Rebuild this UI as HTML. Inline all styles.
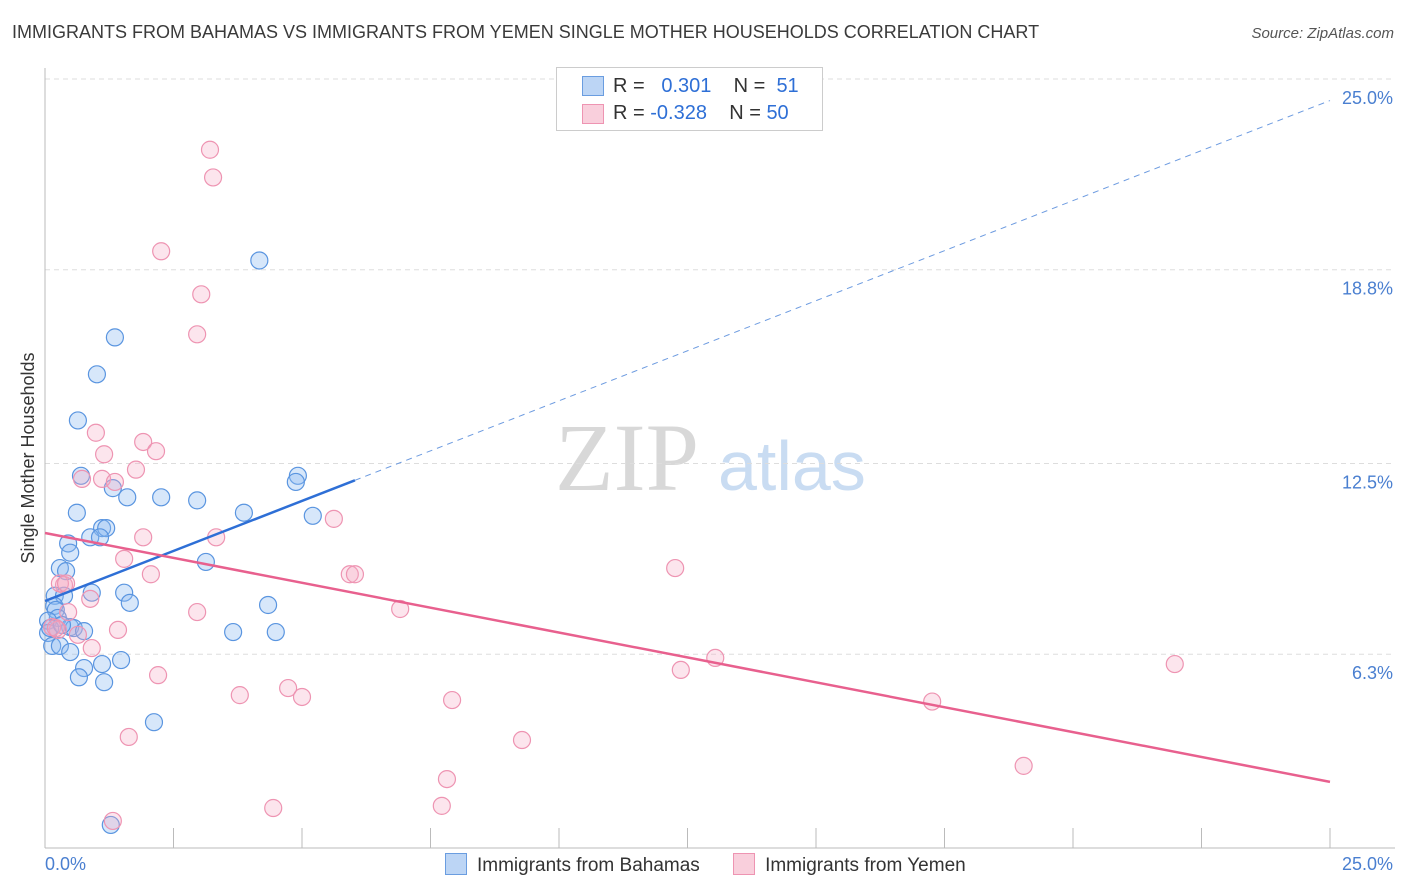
<!DOCTYPE html>
<html><head><meta charset="utf-8"><style>
body{margin:0;background:#fff;font-family:"Liberation Sans",sans-serif;}
#wrap{position:relative;width:1406px;height:892px;overflow:hidden;}
.t{position:absolute;white-space:nowrap;}
</style></head><body>
<div id="wrap">
<div class="t" style="left:12px;top:22px;font-size:18px;color:#3a3a3a;">IMMIGRANTS FROM BAHAMAS VS IMMIGRANTS FROM YEMEN SINGLE MOTHER HOUSEHOLDS CORRELATION CHART</div>
<div class="t" style="right:12px;top:25px;font-size:15px;color:#555;font-style:italic;">Source: ZipAtlas.com</div>
<svg id="svg" width="1406" height="892" style="position:absolute;left:0;top:0"></svg>
</div>
<script>
const yTicks=[25.0,18.8,12.5,6.3];
const yTickLabels=["25.0%","18.8%","12.5%","6.3%"];
const xTickLabels=["0.0%","25.0%"];
const bahamasX=[4.17,1.36,1.01,0.64,0.70,1.32,2.26,2.96,4.92,4.88,1.60,0.62,3.87,5.21,1.11,1.19,0.88,1.07,0.45,0.49,0.29,0.41,3.13,0.91,1.54,0.19,0.37,1.65,4.34,0.18,0.21,0.25,0.06,0.49,0.56,0.76,0.06,3.66,4.49,0.14,0.29,0.49,0.76,1.11,1.48,0.66,1.15,2.12,1.28,0.10,0.33];
const bahamasY=[19.1,16.6,15.4,13.9,12.1,11.7,11.4,11.3,12.1,11.9,11.4,10.9,10.9,10.8,10.4,10.4,10.1,10.1,9.9,9.6,9.1,9.0,9.3,8.3,8.3,8.2,8.2,7.97,7.9,7.87,7.74,7.48,7.39,7.18,7.15,7.05,6.99,7.02,7.02,6.57,6.57,6.37,5.85,5.98,6.11,5.55,5.39,4.09,0.75,7.15,7.25];
const yemenX=[3.21,3.27,2.26,3.04,2.96,0.99,1.91,2.16,1.77,1.15,0.72,1.11,1.36,5.62,3.33,1.91,1.54,2.06,5.93,6.03,12.26,0.37,0.29,0.41,0.88,0.45,2.96,6.91,1.42,0.25,0.64,0.91,13.04,12.37,21.98,2.2,3.79,4.73,5.0,7.92,17.26,1.63,9.28,19.04,7.82,4.44,7.72,1.32,0.14,0.21];
const yemenY=[22.7,21.8,19.4,18.0,16.7,13.5,13.2,12.9,12.3,12.8,12.0,12.0,11.9,10.7,10.1,10.1,9.4,8.9,8.9,8.9,9.1,8.55,8.6,8.6,8.1,7.67,7.67,7.77,7.09,7.09,6.93,6.5,6.18,5.79,5.98,5.62,4.97,5.2,4.91,4.81,4.76,3.61,3.51,2.67,2.24,1.3,1.37,0.88,7.18,7.15];
const bahamasTrend=[8.03,24.3]; const bahamasSolidEnd=6.03;
const yemenTrend=[10.24,2.15];
const NS="http://www.w3.org/2000/svg";
const svg=document.getElementById('svg');
const X0=45,X1=1330,Y0=848,Y1=79;
const xs=v=>X0+(X1-X0)*v/25;
const ys=v=>Y0-(Y0-Y1)*v/25;
function mk(tag,a){const e=document.createElementNS(NS,tag);for(const k in a)e.setAttribute(k,a[k]);svg.appendChild(e);return e;}
// watermark
let w=mk('text',{x:555,y:490,'font-size':96,'font-family':'Liberation Serif, serif',fill:'#d8d8d8'});w.textContent='ZIP';


w=mk('text',{x:718,y:490,'font-size':70,'font-family':'Liberation Sans, sans-serif',fill:'#c9dcf2'});w.textContent='atlas';


yTicks.forEach((t,i)=>{
 const g=mk('line',{x1:X0,x2:1395,y1:ys(t),y2:ys(t),stroke:'#ddd','stroke-dasharray':'5,4'});
 
 
 const l=mk('text',{x:1393,y:ys(t)+25,'text-anchor':'end','font-size':18,fill:'#4a7fd0'});l.textContent=yTickLabels[i];
 
 
});
let ax=mk('line',{x1:X0,x2:X0,y1:68,y2:Y0,stroke:'#bbb'});


ax=mk('line',{x1:X0,x2:1395,y1:Y0,y2:Y0,stroke:'#bbb'});


for(let i=0;i<=10;i++){const tk=mk('line',{x1:xs(i*2.5),x2:xs(i*2.5),y1:Y0,y2:Y0-20,stroke:'#bbb'});
 
 }
[[0,'start'],[25,'end']].forEach((p,i)=>{const l=mk('text',{x:i?1393:45,y:870,'text-anchor':p[1],'font-size':18,fill:'#4a7fd0'});l.textContent=xTickLabels[i];
 
 });
let yt=mk('text',{x:34,y:458,'font-size':18,fill:'#333','text-anchor':'middle',transform:'rotate(-90 34 458)'});yt.textContent='Single Mother Households';


bahamasX.forEach((x,i)=>{const c=mk('circle',{cx:xs(x),cy:ys(bahamasY[i]),r:8.5,fill:'rgba(140,185,240,0.35)',stroke:'#5a95e0','stroke-width':1.2});
 
 });
yemenX.forEach((x,i)=>{const c=mk('circle',{cx:xs(x),cy:ys(yemenY[i]),r:8.5,fill:'rgba(245,170,195,0.3)',stroke:'#ee94b2','stroke-width':1.2});
 
 });
const bAt=x=>bahamasTrend[0]+(bahamasTrend[1]-bahamasTrend[0])*x/25;
let tl=mk('line',{x1:xs(0),y1:ys(bAt(0)),x2:xs(bahamasSolidEnd),y2:ys(bAt(bahamasSolidEnd)),stroke:'#2e6fd6','stroke-width':2.5});


tl=mk('line',{x1:xs(bahamasSolidEnd),y1:ys(bAt(bahamasSolidEnd)),x2:xs(25),y2:ys(bAt(25)),stroke:'#6d9be0','stroke-width':1,'stroke-dasharray':'6,5'});


tl=mk('line',{x1:xs(0),y1:ys(yemenTrend[0]),x2:xs(25),y2:ys(yemenTrend[1]),stroke:'#e8608e','stroke-width':2.5});


</script>
<div class="t" style="left:556px;top:67px;width:265px;height:62px;border:1px solid #ccc;background:#fff;font-size:20px;">
 <div style="position:absolute;left:25px;top:8px;width:20px;height:18px;background:#bcd5f5;border:1px solid #6a9de0"></div>
 <div class="t" style="left:56px;top:7px;color:#333">R = &nbsp;<span style="color:#2e6fd6">&nbsp;0.301</span>&nbsp;&nbsp;&nbsp; N = &nbsp;<span style="color:#2e6fd6">51</span></div>
 <div style="position:absolute;left:25px;top:36px;width:20px;height:18px;background:#f9cfdc;border:1px solid #ee94b2"></div>
 <div class="t" style="left:56px;top:34px;color:#333">R = <span style="color:#2e6fd6">-0.328</span>&nbsp;&nbsp;&nbsp; N = <span style="color:#2e6fd6">50</span></div>
</div>
<div class="t" style="left:445px;top:853px;font-size:19px;color:#333">
 <span style="display:inline-block;width:20px;height:20px;background:#bcd5f5;border:1px solid #6a9de0;vertical-align:-4px;margin-right:10px"></span>Immigrants from Bahamas
 <span style="display:inline-block;width:20px;height:20px;background:#f9cfdc;border:1px solid #ee94b2;vertical-align:-4px;margin:0 10px 0 28px"></span>Immigrants from Yemen
</div>
</body></html>
